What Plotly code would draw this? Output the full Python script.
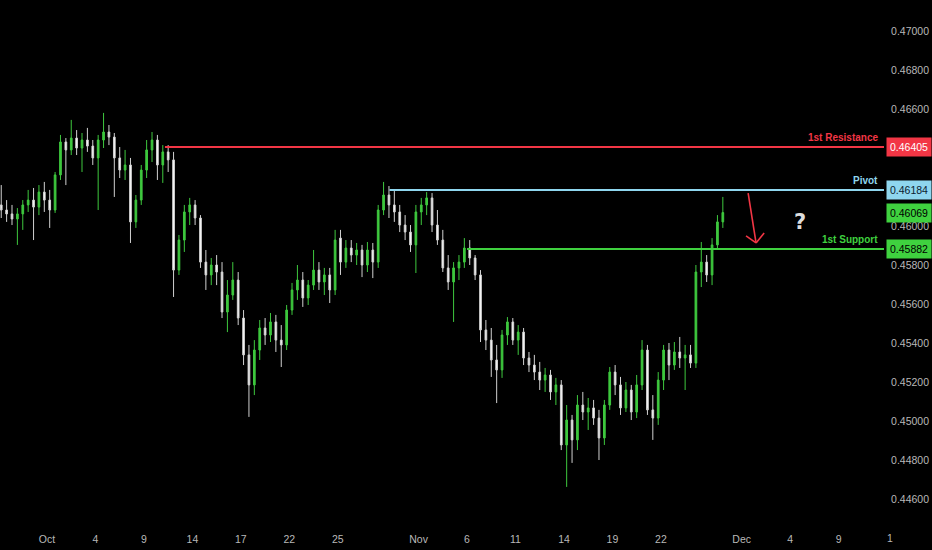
import numpy as np
import plotly.graph_objects as go

# ---------------- data (4h-ish bars, price values) ----------------
opens = [0.46108,0.46082,0.46062,0.46036,0.46062,0.46108,0.46133,0.46097,0.46174,0.46133,
         0.46082,0.46262,0.46431,0.46390,0.46451,0.46400,0.46441,0.46410,0.46349,0.46441,
         0.46482,0.46456,0.46349,0.46287,0.46313,0.46021,0.46133,0.46287,0.46390,0.46441,
         0.46313,0.46380,0.46339,0.45774,0.45928,0.46072,0.46108,0.46041,0.45815,0.45749,
         0.45800,0.45764,0.45559,0.45646,0.45723,0.45528,0.45339,0.45185,0.45364,0.45477,
         0.45441,0.45508,0.45415,0.45390,0.45569,0.45672,0.45723,0.45631,0.45697,0.45774,
         0.45713,0.45749,0.45672,0.45938,0.45815,0.45887,0.45851,0.45877,0.45800,0.45877,
         0.45815,0.46082,0.46159,0.46108,0.46072,0.46005,0.45969,0.45903,0.46072,0.46108,
         0.46144,0.46005,0.45928,0.45785,0.45713,0.45785,0.45815,0.45887,0.45836,0.45749,
         0.45467,0.45415,0.45313,0.45262,0.45441,0.45508,0.45415,0.45456,0.45323,0.45287,
         0.45251,0.45210,0.45236,0.45149,0.45185,0.44877,0.45005,0.44903,0.45082,0.45046,
         0.45067,0.45015,0.44913,0.45082,0.45251,0.45185,0.45067,0.45159,0.45046,0.45185,
         0.45364,0.45057,0.45015,0.45210,0.45364,0.45287,0.45354,0.45323,0.45339,0.45297,
         0.45764,0.45815,0.45749,0.45903,0.46021]
highs = [0.46210,0.46133,0.46108,0.46092,0.46133,0.46185,0.46195,0.46210,0.46226,0.46185,
         0.46277,0.46467,0.46451,0.46544,0.46492,0.46477,0.46503,0.46441,0.46467,0.46580,
         0.46518,0.46477,0.46405,0.46390,0.46349,0.46159,0.46313,0.46441,0.46482,0.46467,
         0.46415,0.46415,0.46380,0.45954,0.46108,0.46144,0.46133,0.46056,0.45877,0.45836,
         0.45851,0.45815,0.45723,0.45815,0.45764,0.45569,0.45390,0.45415,0.45518,0.45528,
         0.45554,0.45544,0.45492,0.45595,0.45708,0.45800,0.45764,0.45723,0.45877,0.45815,
         0.45785,0.45785,0.45980,0.45980,0.45928,0.45928,0.45913,0.45903,0.45918,0.45913,
         0.46108,0.46226,0.46205,0.46185,0.46108,0.46056,0.46005,0.46108,0.46144,0.46174,
         0.46169,0.46082,0.45980,0.45851,0.45815,0.45851,0.45938,0.45928,0.45851,0.45774,
         0.45518,0.45477,0.45390,0.45467,0.45533,0.45528,0.45492,0.45477,0.45354,0.45339,
         0.45303,0.45272,0.45262,0.45221,0.45210,0.45082,0.45031,0.45133,0.45149,0.45118,
         0.45108,0.45057,0.45108,0.45277,0.45287,0.45226,0.45200,0.45185,0.45236,0.45415,
         0.45390,0.45133,0.45251,0.45390,0.45400,0.45405,0.45431,0.45390,0.45390,0.45800,
         0.45918,0.45851,0.45938,0.46056,0.46149]
lows  = [0.46041,0.46021,0.46005,0.45903,0.45980,0.46072,0.45928,0.46056,0.46072,0.45990,
         0.46067,0.46236,0.46210,0.46364,0.46364,0.46277,0.46380,0.46313,0.46082,0.46400,
         0.46415,0.46149,0.46246,0.46236,0.45913,0.45990,0.46108,0.46246,0.46328,0.46236,
         0.46221,0.46277,0.45636,0.45749,0.45867,0.46005,0.46005,0.45785,0.45672,0.45697,
         0.45697,0.45528,0.45456,0.45621,0.45492,0.45287,0.45021,0.45133,0.45313,0.45390,
         0.45405,0.45354,0.45277,0.45364,0.45544,0.45621,0.45585,0.45595,0.45672,0.45672,
         0.45646,0.45605,0.45646,0.45749,0.45785,0.45815,0.45800,0.45738,0.45764,0.45733,
         0.45785,0.46056,0.46041,0.46021,0.45969,0.45928,0.45867,0.45759,0.46005,0.46056,
         0.45969,0.45903,0.45764,0.45672,0.45508,0.45723,0.45785,0.45800,0.45723,0.45405,
         0.45364,0.45226,0.45092,0.45221,0.45390,0.45390,0.45339,0.45287,0.45251,0.45210,
         0.45159,0.45149,0.45108,0.45082,0.44851,0.44662,0.44785,0.44851,0.45005,0.44954,
         0.44980,0.44800,0.44877,0.45057,0.45133,0.45031,0.45046,0.45005,0.45015,0.45159,
         0.45031,0.44903,0.44980,0.45159,0.45210,0.45262,0.45272,0.45159,0.45272,0.45272,
         0.45687,0.45713,0.45697,0.45877,0.45990]
closes = [0.46082,0.46062,0.46036,0.46062,0.46108,0.46133,0.46097,0.46174,0.46133,0.46082,
          0.46262,0.46431,0.46390,0.46451,0.46400,0.46441,0.46410,0.46349,0.46441,0.46482,
          0.46456,0.46349,0.46287,0.46313,0.46021,0.46133,0.46287,0.46390,0.46441,0.46313,
          0.46380,0.46339,0.45774,0.45928,0.46072,0.46108,0.46041,0.45815,0.45749,0.45800,
          0.45764,0.45559,0.45646,0.45723,0.45528,0.45339,0.45185,0.45364,0.45477,0.45441,
          0.45508,0.45415,0.45390,0.45569,0.45672,0.45723,0.45631,0.45697,0.45774,0.45713,
          0.45749,0.45672,0.45928,0.45815,0.45887,0.45851,0.45877,0.45800,0.45877,0.45815,
          0.46082,0.46159,0.46108,0.46072,0.46005,0.45969,0.45903,0.46072,0.46108,0.46144,
          0.46005,0.45928,0.45785,0.45713,0.45785,0.45815,0.45887,0.45836,0.45749,0.45467,
          0.45415,0.45313,0.45262,0.45441,0.45508,0.45415,0.45456,0.45323,0.45287,0.45251,
          0.45210,0.45236,0.45149,0.45185,0.44877,0.45005,0.44903,0.45082,0.45046,0.45067,
          0.45015,0.44913,0.45082,0.45251,0.45185,0.45067,0.45159,0.45046,0.45185,0.45364,
          0.45057,0.45015,0.45210,0.45364,0.45287,0.45354,0.45323,0.45339,0.45297,0.45764,
          0.45815,0.45749,0.45903,0.46021,0.46069]

# bar time in trading days, Oct 1 = 0 (three bars per day)
bar_time = -2.8333 + np.arange(len(closes)) / 3.0

# time-axis ticks (trading-day index) and labels
tick_days = [0, 3, 6, 9, 12, 15, 18, 23, 26, 29, 32, 35, 38, 43, 46, 49]
tick_labels = ["Oct", "4", "9", "14", "17", "22", "25", "Nov", "6", "11", "14", "19", "22", "Dec", "4", "9"]
clipped_tick_label = "1"

price_ticks = [0.446, 0.448, 0.450, 0.452, 0.454, 0.456, 0.458, 0.460, 0.466, 0.468, 0.470]

# key levels
resistance, pivot, support, last_price = 0.46405, 0.46184, 0.45882, 0.46069
resistance_start, pivot_start, support_start = 7.3, 21.2, 26.0

# projection arrow (time, price)
arrow_tail = (43.40, 0.46169)
arrow_tip = (43.89, 0.45913)
arrow_left = (43.27, 0.45949)
arrow_right = (44.39, 0.45964)
question_pos = (46.6, 0.46021)

X_RANGE = [-2.91, 51.81]
Y_RANGE = [0.444923, 0.471590]

RED = "#f23645"
BLUE = "#8fd6ee"
GREEN = "#3fd13f"
CANDLE_GREEN = "#3ec83e"
AXIS_TXT = "#b8b8b8"

fig = go.Figure()
fig.add_trace(go.Candlestick(
    x=bar_time, open=opens, high=highs, low=lows, close=closes,
    increasing=dict(line=dict(color=CANDLE_GREEN, width=1), fillcolor=CANDLE_GREEN),
    decreasing=dict(line=dict(color="#d0d0d0", width=1), fillcolor="#ffffff"),
    whiskerwidth=0, hoverinfo="skip", showlegend=False,
))

# level lines
for lvl, start, col in [(resistance, resistance_start, RED), (pivot, pivot_start, BLUE), (support, support_start, GREEN)]:
    fig.add_shape(type="line", xref="x", yref="y", x0=start, x1=X_RANGE[1] + 5, y0=lvl, y1=lvl,
                  line=dict(color=col, width=2))

# arrow
for p0, p1 in [(arrow_tail, arrow_tip), (arrow_left, arrow_tip), (arrow_right, arrow_tip)]:
    fig.add_shape(type="line", xref="x", yref="y", x0=p0[0], y0=p0[1], x1=p1[0], y1=p1[1],
                  line=dict(color=RED, width=1.6))

FONT = "Liberation Sans"
ann = []
# level captions
for txt, lvl, col in [("1st Resistance", resistance, RED), ("Pivot", pivot, BLUE), ("1st Support", support, GREEN)]:
    ann.append(dict(xref="paper", yref="y", x=0.9955, y=lvl, xanchor="right", yanchor="bottom",
                    yshift=2, text=txt, showarrow=False,
                    font=dict(family=FONT, size=10, color=col, weight="bold")))
# price boxes on axis
for lvl, bg, fc in [(resistance, RED, "#ffffff"), (pivot, BLUE, "#0c2230"), (last_price, GREEN, "#000000"), (support, GREEN, "#000000")]:
    ann.append(dict(xref="paper", yref="y", x=1.0, y=lvl, xanchor="left", yanchor="middle",
                    xshift=2, text=f"{lvl:.5f}", showarrow=False, bgcolor=bg, borderpad=3,
                    font=dict(family=FONT, size=10.5, color=fc)))
# question mark
ann.append(dict(xref="x", yref="y", x=question_pos[0], y=question_pos[1], text="?", showarrow=False,
                font=dict(family="DejaVu Sans", size=21, color="#dddddd", weight="bold")))
# clipped last time label (sits under the price scale)
ann.append(dict(xref="paper", yref="paper", x=1.0, y=0, xanchor="left", yanchor="top", xshift=1, yshift=-10,
                text=clipped_tick_label, showarrow=False, font=dict(family=FONT, size=10.5, color=AXIS_TXT)))

fig.update_layout(
    width=932, height=550,
    margin=dict(l=0, r=48, t=0, b=30),
    paper_bgcolor="#000000", plot_bgcolor="#000000",
    showlegend=False, annotations=ann, boxgap=0.55,
    xaxis=dict(range=X_RANGE, rangeslider=dict(visible=False), showgrid=False, zeroline=False,
               tickvals=tick_days, ticktext=tick_labels, ticks="outside", ticklen=9,
               tickcolor="rgba(0,0,0,0)", tickfont=dict(family=FONT, size=10.5, color=AXIS_TXT),
               showline=False, fixedrange=True),
    yaxis=dict(range=Y_RANGE, side="right", showgrid=False, zeroline=False,
               tickvals=price_ticks, tickformat=".5f", ticks="outside", ticklen=4,
               tickcolor="rgba(0,0,0,0)", tickfont=dict(family=FONT, size=10.5, color=AXIS_TXT),
               showline=False, fixedrange=True),
)

fig.write_html("out.html", config={"displayModeBar": False},
               post_script="document.body.style.margin='0';document.body.style.padding='0';"
                           "document.body.style.background='#000';document.body.style.overflow='hidden';")
